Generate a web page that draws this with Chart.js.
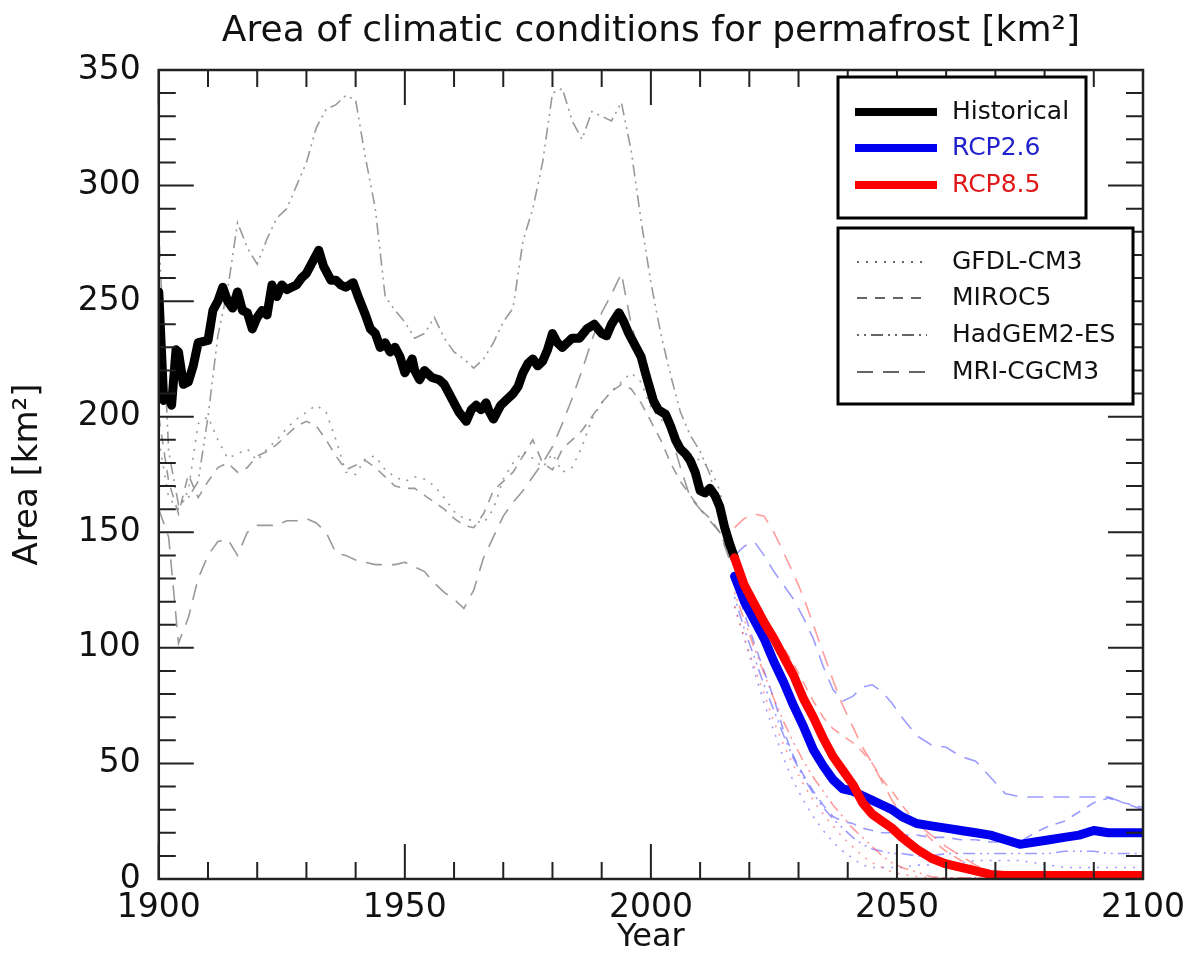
<!DOCTYPE html>
<html>
<head>
<meta charset="utf-8">
<script src="https://cdn.jsdelivr.net/npm/chart.js@4.4.0/dist/chart.umd.min.js"></script>
<style>
html, body { margin: 0; padding: 0; background: #fff; }
#wrap { width: 1198px; height: 957px; }
</style>
</head>
<body>
<div id="wrap"><canvas id="chart" width="1198" height="957"></canvas></div>
<script>
// observed record (black)
const blackYears = [1900, 1901, 1902, 1902.6, 1903.5, 1904, 1905, 1906, 1907, 1908, 1910, 1911, 1912, 1913, 1914, 1915, 1916, 1917, 1918, 1919,
    1920, 1921, 1922, 1923, 1924, 1925, 1926, 1927, 1928, 1929, 1930, 1931, 1932.5, 1933.5, 1935, 1936, 1937, 1938, 1939.5, 1940.5,
    1942, 1943, 1944, 1945, 1946, 1947, 1948, 1949, 1950, 1951.5, 1952, 1953, 1954, 1955.5, 1957, 1958, 1959, 1960, 1961, 1962.5,
    1963.5, 1964.5, 1965.5, 1966.5, 1967, 1968, 1969.5, 1970.5, 1972, 1973, 1974, 1975, 1976, 1977, 1978, 1979, 1980, 1981, 1982, 1983,
    1984, 1985.5, 1987, 1988.5, 1990, 1991, 1992, 1993.5, 1994.5, 1995.5, 1997, 1998, 1999, 2000.5, 2001.5, 2003, 2004, 2005, 2006, 2007,
    2008, 2009, 2010, 2011, 2012, 2013, 2014, 2015, 2016, 2017]
const blackArea = [254, 207, 209, 205, 229, 228, 214, 215, 222, 232, 233, 246, 250, 256, 250, 247, 254, 246, 245, 238,
    243, 246, 244, 257, 252, 257, 255, 256, 257, 260, 262, 266, 272, 265, 259, 259, 257, 256, 258, 252,
    244, 238, 236, 230, 232, 228, 230, 226, 219, 225, 220, 216, 220, 217, 216, 214, 210, 206, 202, 198,
    203, 205, 203, 206, 203, 199, 205, 207, 210, 213, 219, 223, 225, 222, 224, 229, 236, 232, 230, 232,
    234, 234, 238, 240, 236, 235, 240, 245, 241, 236, 230, 226, 218, 207, 203, 201, 196, 190, 186, 184,
    181, 176, 168, 167, 169, 166, 161, 152, 145, 139]

// models over the historical period (grey), every 2 years
const histYears = [1900, 1902, 1904, 1906, 1908, 1910, 1912, 1914, 1916, 1918, 1920, 1922, 1924, 1926, 1928, 1930, 1932, 1934, 1936, 1938,
    1940, 1942, 1944, 1946, 1948, 1950, 1952, 1954, 1956, 1958, 1960, 1962, 1964, 1966, 1968, 1970, 1972, 1974, 1976, 1978,
    1980, 1982, 1984, 1986, 1988, 1990, 1992, 1994, 1996, 1998, 2000, 2002, 2004, 2006, 2008, 2010, 2012, 2014, 2016]
const gfdlHist = [190, 165, 160, 168, 197, 200, 190, 182, 184, 186, 181, 186, 190, 195, 199, 202, 205, 202, 190, 176,
    175, 182, 183, 177, 174, 172, 174, 173, 170, 165, 159, 156, 155, 154, 160, 173, 180, 185, 182, 178,
    184, 176, 178, 187, 199, 206, 211, 215, 219, 215, 204, 199, 194, 188, 184, 181, 178, 168, 148]
const mirocHist = [200, 172, 158, 175, 165, 172, 178, 180, 176, 178, 183, 185, 188, 192, 196, 198, 196, 190, 183, 177,
    179, 181, 178, 174, 170, 169, 169, 166, 163, 160, 156, 153, 152, 158, 168, 172, 176, 183, 190, 180,
    177, 186, 190, 194, 200, 206, 211, 214, 212, 206, 198, 190, 180, 172, 166, 160, 156, 150, 140]
const hadgemHist = [280, 185, 162, 165, 172, 200, 235, 255, 284, 273, 266, 277, 286, 290, 300, 310, 325, 333, 335, 339,
    337, 312, 290, 252, 246, 241, 234, 236, 243, 234, 228, 225, 221, 225, 232, 241, 247, 276, 290, 310,
    340, 342, 328, 320, 332, 330, 328, 336, 315, 285, 258, 236, 218, 202, 192, 185, 175, 158, 142]
const mriHist = [160, 148, 102, 113, 130, 140, 146, 147, 140, 150, 153, 153, 153, 155, 155, 156, 154, 150, 141, 140,
    138, 137, 136, 136, 136, 137, 135, 133, 128, 124, 121, 117, 125, 139, 148, 157, 163, 168, 174, 180,
    187, 197, 208, 220, 233, 245, 253, 262, 240, 225, 214, 204, 193, 178, 165, 160, 155, 150, 138]

// projections
const futYears = [2017, 2019, 2021, 2023, 2025, 2027, 2029, 2031, 2033, 2035, 2037, 2039, 2041, 2043, 2045, 2047, 2049, 2051, 2054, 2057,
    2060, 2063, 2066, 2069, 2072, 2075, 2078, 2081, 2084, 2087, 2090, 2093, 2096, 2100]
const rcp26Mean = [131, 120, 112, 104, 94, 85, 75, 66, 56, 49, 43, 39, 38, 36, 34, 32, 30, 27, 24, 23,
    22, 21, 20, 19, 17, 15, 16, 17, 18, 19, 21, 20, 20, 20]
const rcp85Mean = [139, 127, 119, 111, 104, 96, 88, 78, 70, 61, 53, 47, 41, 33, 28, 25, 22, 18, 13, 9,
    6.5, 5, 3.5, 2, 1.5, 1.5, 1.5, 1.5, 1.5, 1.5, 1.5, 1.5, 1.5, 1.5]
const gfdl26 = [118, 104, 90, 76, 64, 52, 42, 34, 27, 21, 16, 12, 9, 6, 5, 5, 5, 5, 6, 6,
    7, 7, 8, 8, 8, 8, 7, 6, 5, 5, 5, 5, 5, 5]
const miroc26 = [128, 115, 102, 90, 78, 64, 53, 45, 38, 32, 27, 25, 24, 22, 21, 20, 20, 19, 19, 18,
    18, 17, 17, 16, 16, 16, 20, 23, 25, 29, 33, 35, 33, 31]
const hadgem26 = [122, 108, 96, 84, 73, 62, 52, 44, 37, 31, 26, 22, 18, 15, 13, 12, 11, 11, 10, 10,
    11, 11, 11, 11, 11, 11, 11, 11, 12, 12, 12, 11, 11, 11]
const mri26 = [140, 144, 146, 140, 133, 127, 121, 113, 104, 92, 82, 77, 79, 83, 84, 81, 76, 70, 62, 58,
    57, 53, 51, 44, 37, 35.5, 35.5, 35.5, 35.5, 35.5, 35.5, 35.5, 33, 30]
const gfdl85 = [118, 104, 92, 80, 68, 58, 49, 41, 34, 28, 23, 18, 14, 10, 7, 5, 3, 2, 1, 0.5,
    0.5, 0.5, 0.5, 0.5, 0.5, 0.5, 0.5, 0.5, 0.5, 0.5, 0.5, 0.5, 0.5, 0.5]
const miroc85 = [140, 130, 120, 112, 104, 100, 93, 85, 77, 70, 65, 62, 59, 55, 50, 43, 38, 32, 24, 17,
    12, 8, 5, 3, 1, 0.5, 0.5, 0.5, 0.5, 0.5, 0.5, 0.5, 0.5, 0.5]
const hadgem85 = [124, 112, 100, 89, 78, 68, 59, 51, 44, 38, 32, 27, 22, 18, 14, 10, 7, 5, 3, 1,
    0.5, 0.5, 0.5, 0.5, 0.5, 0.5, 0.5, 0.5, 0.5, 0.5, 0.5, 0.5, 0.5, 0.5]
const mri85 = [152, 156, 158, 157, 150, 141, 132, 122, 110, 98, 86, 75, 66, 57, 50, 42, 34, 28, 24, 19,
    14, 10, 6, 3, 1, 0.5, 0.5, 0.5, 0.5, 0.5, 0.5, 0.5, 0.5, 0.5]

const xTicks = [1900, 1950, 2000, 2050, 2100]
const yTicks = [0, 50, 100, 150, 200, 250, 300, 350]
const titleText = "Area of climatic conditions for permafrost [km²]"

// dash styles per model
const dashes = {
    gfdl: [2, 7],
    miroc: [10, 8],
    hadgem: [2, 5, 2, 5, 12, 5],
    mri: [16, 10],
}
const grey = "rgba(135, 135, 135, 0.85)"
const thinBlue = "rgba(90, 90, 255, 0.6)"
const thinRed = "rgba(255, 90, 90, 0.6)"

const pts = (xs, ys) => xs.map((x, i) => ({ x, y: ys[i] }))

function thick(label, xs, ys, color) {
    return { label, data: pts(xs, ys), borderColor: color, borderWidth: 9, borderJoinStyle: "round", borderCapStyle: "round" }
}
function thin(label, xs, ys, color, dash) {
    return { label, data: pts(xs, ys), borderColor: color, borderWidth: 1.6, borderDash: dash }
}

// first dataset is drawn on top
const datasets = [
    thick("RCP8.5", futYears, rcp85Mean, "#ff0000"),
    thick("RCP2.6", futYears, rcp26Mean, "#0000ee"),
    thick("Historical", blackYears, blackArea, "#000000"),
    thin("GFDL-CM3 8.5", futYears, gfdl85, thinRed, dashes.gfdl),
    thin("MIROC5 8.5", futYears, miroc85, thinRed, dashes.miroc),
    thin("HadGEM2-ES 8.5", futYears, hadgem85, thinRed, dashes.hadgem),
    thin("MRI-CGCM3 8.5", futYears, mri85, thinRed, dashes.mri),
    thin("GFDL-CM3 2.6", futYears, gfdl26, thinBlue, dashes.gfdl),
    thin("MIROC5 2.6", futYears, miroc26, thinBlue, dashes.miroc),
    thin("HadGEM2-ES 2.6", futYears, hadgem26, thinBlue, dashes.hadgem),
    thin("MRI-CGCM3 2.6", futYears, mri26, thinBlue, dashes.mri),
    thin("GFDL-CM3", histYears, gfdlHist, grey, dashes.gfdl),
    thin("MIROC5", histYears, mirocHist, grey, dashes.miroc),
    thin("HadGEM2-ES", histYears, hadgemHist, grey, dashes.hadgem),
    thin("MRI-CGCM3", histYears, mriHist, grey, dashes.mri),
]

// inward ticks on all four sides + frame + title centred over the plot
const frameTicks = {
    id: "frameTicks",
    afterDatasetsDraw(chart) {
        const { ctx, chartArea: a, scales: { x, y } } = chart
        ctx.save()
        ctx.strokeStyle = "#222"
        ctx.lineWidth = 2
        ctx.beginPath()
        for (let yr = 1900; yr <= 2100; yr += 10) {
            const px = x.getPixelForValue(yr)
            const len = yr % 50 === 0 ? 35 : 17
            ctx.moveTo(px, a.bottom); ctx.lineTo(px, a.bottom - len)
            ctx.moveTo(px, a.top); ctx.lineTo(px, a.top + len)
        }
        for (let v = 0; v <= 350; v += 10) {
            const py = y.getPixelForValue(v)
            const len = v % 50 === 0 ? 35 : 17
            ctx.moveTo(a.left, py); ctx.lineTo(a.left + len, py)
            ctx.moveTo(a.right, py); ctx.lineTo(a.right - len, py)
        }
        ctx.stroke()
        ctx.lineWidth = 2.5
        ctx.strokeRect(a.left, a.top, a.width, a.height)

        ctx.fillStyle = "#111"
        ctx.font = "36px 'DejaVu Sans'"
        ctx.textAlign = "center"
        ctx.textBaseline = "middle"
        ctx.fillText(titleText, (a.left + a.right) / 2, 32)
        ctx.restore()
    },
}

// the two boxed legends
const boxLegends = {
    id: "boxLegends",
    afterDraw(chart) {
        const ctx = chart.ctx
        ctx.save()
        ctx.fillStyle = "#fff"
        ctx.strokeStyle = "#000"
        ctx.lineWidth = 3
        ctx.fillRect(838, 77, 248, 141)
        ctx.strokeRect(838, 77, 248, 141)
        ctx.fillRect(838, 228, 295, 176)
        ctx.strokeRect(838, 228, 295, 176)

        ctx.font = "25px 'DejaVu Sans'"
        ctx.textBaseline = "middle"
        const top = [["Historical", "#000000", "#111", 112], ["RCP2.6", "#0000ee", "#2020cc", 148], ["RCP8.5", "#ff0000", "#e01818", 185]]
        top.forEach(([t, c, tc, yy]) => {
            ctx.strokeStyle = c
            ctx.lineWidth = 8
            ctx.setLineDash([])
            ctx.beginPath(); ctx.moveTo(855, yy); ctx.lineTo(937, yy); ctx.stroke()
            ctx.fillStyle = tc
            ctx.fillText(t, 952, yy)
        })

        const bottom = [["GFDL-CM3", dashes.gfdl, 262], ["MIROC5", dashes.miroc, 298], ["HadGEM2-ES", dashes.hadgem, 335], ["MRI-CGCM3", dashes.mri, 372]]
        bottom.forEach(([t, d, yy]) => {
            ctx.strokeStyle = "#333"
            ctx.lineWidth = 1.6
            ctx.setLineDash(d)
            ctx.beginPath(); ctx.moveTo(857, yy); ctx.lineTo(927, yy); ctx.stroke()
            ctx.setLineDash([])
            ctx.fillStyle = "#111"
            ctx.fillText(t, 952, yy)
        })
        ctx.restore()
    },
}

const tickFont = { family: "'DejaVu Sans'", size: 33 }

new Chart(document.getElementById("chart"), {
    type: "line",
    data: { datasets },
    plugins: [frameTicks, boxLegends],
    options: {
        responsive: false,
        animation: false,
        devicePixelRatio: 1,
        layout: { padding: { left: 8, right: 55, top: 70, bottom: 0 } },
        elements: { point: { radius: 0 }, line: { tension: 0 } },
        plugins: {
            legend: { display: false },
            tooltip: { enabled: false },
            title: { display: false },
        },
        scales: {
            x: {
                type: "linear",
                min: 1900,
                max: 2100,
                afterBuildTicks: (s) => { s.ticks = xTicks.map(v => ({ value: v })) },
                ticks: { color: "#111", font: tickFont, padding: 2, maxRotation: 0, callback: (v) => String(v) },
                grid: { display: false },
                border: { display: false },
                title: { display: true, text: "Year", color: "#111", font: { family: "'DejaVu Sans'", size: 32 }, padding: { top: -12, bottom: 0 } },
            },
            y: {
                min: 0,
                max: 350,
                afterBuildTicks: (s) => { s.ticks = yTicks.map(v => ({ value: v })) },
                ticks: { color: "#111", font: tickFont, padding: 10, callback: (v) => String(v) },
                grid: { display: false },
                border: { display: false },
                title: { display: true, text: "Area [km²]", color: "#111", font: { family: "'DejaVu Sans'", size: 34 }, padding: { top: 0, bottom: 19 } },
            },
        },
    },
})
</script>
</body>
</html>
